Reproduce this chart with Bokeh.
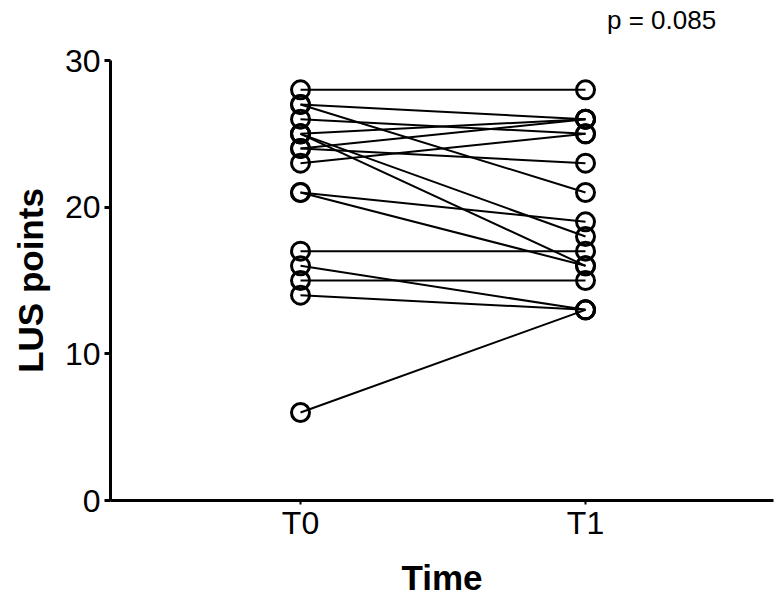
from bokeh.plotting import figure
from bokeh.models import Range1d, FixedTicker, LinearAxis
from bokeh.embed import file_html
from bokeh.resources import INLINE

# ---- data ----
times = ["T0", "T1"]
lus_t0 = [28, 27, 27, 26, 25, 25, 25, 24, 24, 23, 21, 21, 17, 16, 15, 14, 6]
lus_t1 = [28, 26, 21, 25, 26, 18, 16, 26, 23, 25, 19, 16, 17, 13, 15, 13, 13]
y_ticks = [0, 10, 20, 30]
p_text = "p = 0.085"

FONT = "Liberation Sans"

p = figure(width=780, height=599, output_backend="svg", toolbar_location=None,
           x_range=Range1d(-0.6667, 1.6596), y_range=Range1d(0, 30),
           min_border_left=110, min_border_right=7, min_border_top=60,
           min_border_bottom=99)
p.outline_line_color = None
p.xgrid.visible = False
p.ygrid.visible = False
p.background_fill_color = "white"
p.border_fill_color = "white"

xi = list(range(len(times)))
p.multi_line(xs=[xi for _ in lus_t0], ys=[[a, b] for a, b in zip(lus_t0, lus_t1)],
             line_color="black", line_width=2)
p.scatter(x=[xi[0]] * len(lus_t0), y=lus_t0, size=18, fill_color=None,
          line_color="black", line_width=3)
p.scatter(x=[xi[1]] * len(lus_t1), y=lus_t1, size=18, fill_color=None,
          line_color="black", line_width=3)

# axes
p.xaxis.ticker = FixedTicker(ticks=xi)
p.xaxis.major_label_overrides = {i: t for i, t in enumerate(times)}
p.yaxis.ticker = FixedTicker(ticks=y_ticks)
for ax in (p.xaxis, p.yaxis):
    ax.axis_line_width = 3
    ax.axis_line_color = "black"
    ax.major_tick_line_color = "black"
    ax.minor_tick_line_color = None
    ax.major_tick_in = 0
    ax.major_label_text_font = FONT
    ax.major_label_text_font_size = "32px"
    ax.major_label_text_color = "black"
    ax.axis_label_text_font = FONT
    ax.axis_label_text_font_size = "35px"
    ax.axis_label_text_font_style = "bold"
    ax.axis_label_text_color = "black"
p.yaxis.major_tick_out = 6
p.yaxis.major_tick_line_width = 3
p.xaxis.major_tick_out = 4
p.xaxis.major_tick_line_width = 2
p.yaxis.axis_label = "LUS points"
p.xaxis.axis_label = "Time"
p.yaxis.major_label_standoff = 4
p.xaxis.major_label_standoff = 0
p.yaxis.axis_label_standoff = 12
p.xaxis.axis_label_standoff = 14

# p-value annotation placed above the frame as a single-tick top axis label
p_pos = 1.267
top = LinearAxis(ticker=FixedTicker(ticks=[p_pos]),
                 major_label_overrides={p_pos: p_text},
                 axis_line_color=None, major_tick_line_color=None,
                 minor_tick_line_color=None, major_tick_in=0, major_tick_out=0,
                 major_label_standoff=26, major_label_text_font=FONT,
                 major_label_text_font_size="26px", major_label_text_color="black")
p.add_layout(top, "above")

open("out.html", "w").write(file_html(p, INLINE))
